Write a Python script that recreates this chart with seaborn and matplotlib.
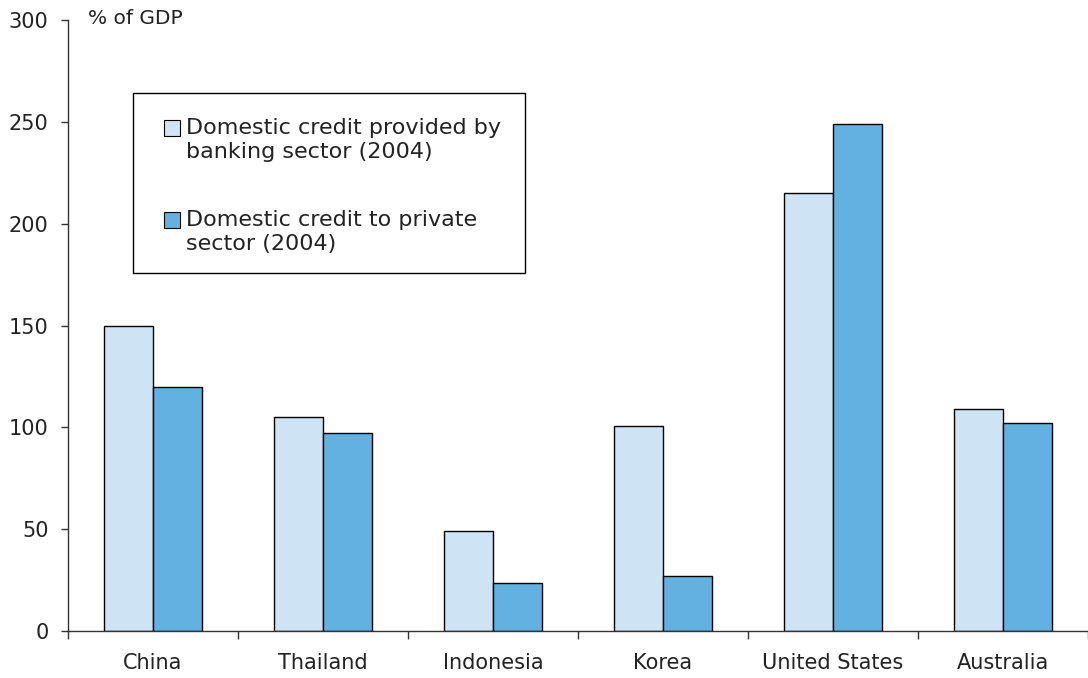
import matplotlib
matplotlib.use("Agg")
import matplotlib.pyplot as plt
from matplotlib.patches import Rectangle
from matplotlib.ticker import FixedLocator
import numpy as np
import pandas as pd
import seaborn as sns

countries = ["China", "Thailand", "Indonesia", "Korea", "United States", "Australia"]
banking_credit = [150, 105, 49, 100.6, 215, 109]
private_credit = [120, 97.3, 23.6, 27, 249, 102]
series_names = ["Domestic credit provided by\nbanking sector (2004)",
                "Domestic credit to private\nsector (2004)"]
colors = ["#CEE4F4", "#63B1E0"]

df = pd.DataFrame({
    "country": countries * 2,
    "value": banking_credit + private_credit,
    "series": [series_names[0]] * len(countries) + [series_names[1]] * len(countries),
})

sns.set_theme(style="white")
plt.rcParams["font.family"] = ["DejaVu Sans"]

W, H = 1088, 678
fig = plt.figure(figsize=(W / 100, H / 100), dpi=100)
ax_left, ax_bottom, ax_w, ax_h = 68, 631, 1020, 611
ax = fig.add_axes([ax_left / W, 1 - ax_bottom / H, ax_w / W, ax_h / H])

sns.barplot(data=df, x="country", y="value", hue="series", palette=colors,
            saturation=1, edgecolor="black", linewidth=1.0, width=0.58, gap=0,
            ax=ax, legend=False)

ax.set_xlim(-0.5, len(countries) - 0.5)
ax.set_ylim(0, 300)
ax.set_yticks(np.arange(0, 301, 50))
ax.set_xlabel("")
ax.set_ylabel("")

for side in ["top", "right"]:
    ax.spines[side].set_visible(False)
for side in ["left", "bottom"]:
    ax.spines[side].set_color("#333333")
    ax.spines[side].set_linewidth(1.0)

ax.tick_params(axis="y", which="major", left=True, length=5, width=1,
               color="#333333", pad=9, labelsize=15, labelcolor="#222222")
ax.tick_params(axis="x", which="major", bottom=False, length=0, pad=16,
               labelsize=15, labelcolor="#222222")
ax.xaxis.set_minor_locator(FixedLocator(np.arange(-0.5, len(countries), 1.0)))
ax.tick_params(axis="x", which="minor", bottom=True, length=6, width=1,
               color="#333333")

fig.text(88 / W, 1 - 18 / H, "% of GDP", fontsize=14.5, color="#222222",
         ha="left", va="center")


def axfrac(px, py):
    """Pixel position in the figure to axes-fraction coordinates."""
    return (px - ax_left) / ax_w, (ax_bottom - py) / ax_h


# Legend box with square swatches aligned to the first text line
x0, y0 = axfrac(133, 273)
x1, y1 = axfrac(525, 93)
ax.add_patch(Rectangle((x0, y0), x1 - x0, y1 - y0, transform=ax.transAxes,
                       facecolor="white", edgecolor="black", linewidth=1.0,
                       zorder=5, clip_on=False))
entry_tops = [120, 212]
for name, color, top in zip(series_names, colors, entry_tops):
    sx0, sy0 = axfrac(164, top + 16)
    sx1, sy1 = axfrac(180, top)
    ax.add_patch(Rectangle((sx0, sy0), sx1 - sx0, sy1 - sy0,
                           transform=ax.transAxes, facecolor=color,
                           edgecolor="black", linewidth=0.8, zorder=6,
                           clip_on=False))
    tx, ty = axfrac(186, top - 2)
    ax.text(tx, ty, name, transform=ax.transAxes, fontsize=16,
            color="#222222", ha="left", va="top", linespacing=1.22, zorder=7)

fig.savefig("out.png", dpi=100)
